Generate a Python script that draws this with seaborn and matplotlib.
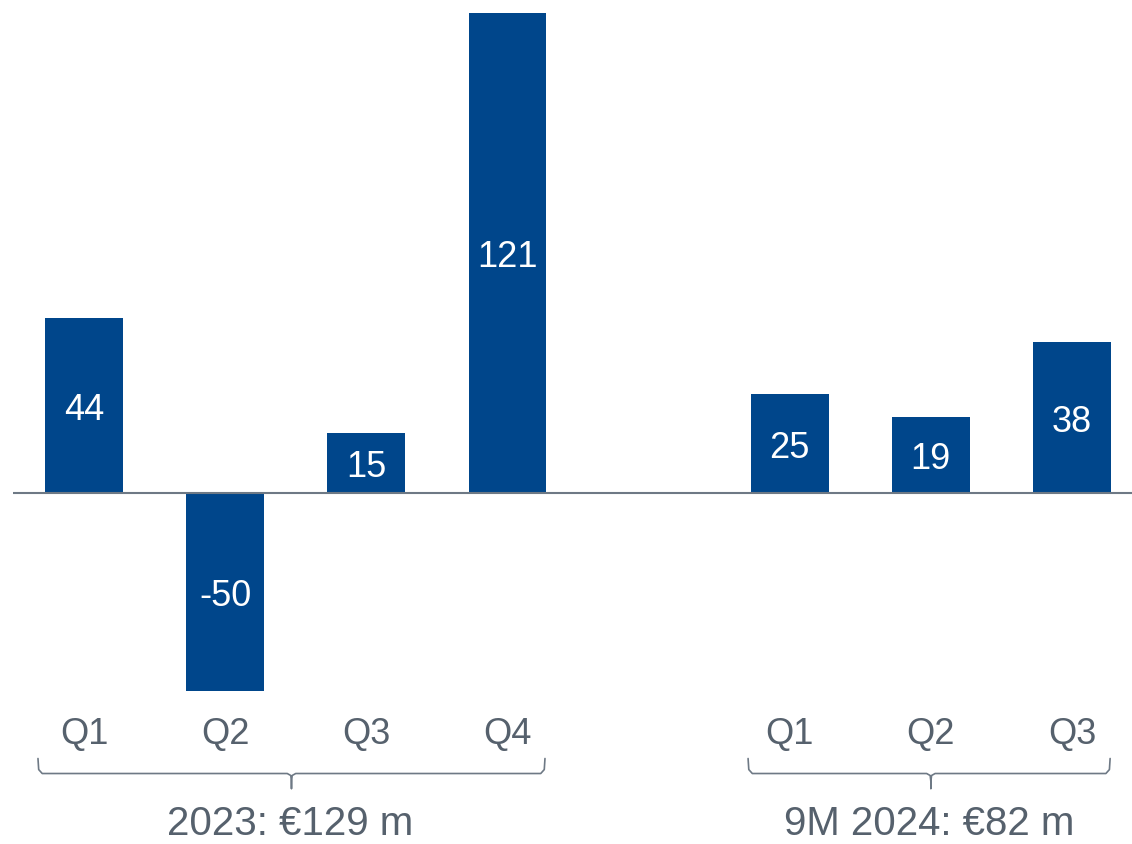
import matplotlib
matplotlib.use("Agg")
import matplotlib.pyplot as plt
import seaborn as sns
import pandas as pd
import numpy as np

# Quarterly values (€ m)
quarters_2023 = ["Q1", "Q2", "Q3", "Q4"]
values_2023 = [44, -50, 15, 121]
quarters_2024 = ["Q1", "Q2", "Q3"]
values_2024 = [25, 19, 38]
group_labels = ["2023: €129 m", "9M 2024: €82 m"]

BAR = "#00468B"
TEXT = "#56616D"
AXIS = "#6E7985"

sns.set_theme(style="white")
plt.rcParams["font.family"] = ["Liberation Sans", "DejaVu Sans"]

# Slots 0-3 for 2023, empty slot 4, slots 5-7 for 2024
slots = [0, 1, 2, 3, 5, 6, 7]
df = pd.DataFrame({
    "slot": slots,
    "value": values_2023 + values_2024,
    "quarter": quarters_2023 + quarters_2024,
})

fig = plt.figure(figsize=(11.32, 8.45), dpi=100)
ax = fig.add_axes([13 / 1132, 0, 1 - 13 / 1132, 1])

sns.barplot(data=df, x="slot", y="value", order=list(range(8)),
            color=BAR, width=0.55, saturation=1, ax=ax, edgecolor="none")

px = 3.96  # pixels per unit
shift = 1.5 / px
ylo = -50 - (845 - 690) / px + shift
yhi = 121 + 13 / px + shift
ax.set_ylim(ylo, yhi)
ax.set_xlim(-0.503, 7.425)
ax.axis("off")

ax.axhline(0, color=AXIS, lw=1.5, zorder=3)

def yv(p):
    return (492 - p) / px

# Value labels inside bars
for s, v in zip(df["slot"], df["value"]):
    ax.text(s, v / 2 - 1, f"{v}", ha="center", va="center",
            color="white", fontsize=26)

# Quarter labels
for s, q in zip(df["slot"], df["quarter"]):
    ax.text(s, yv(733), q, ha="center", va="center", color=TEXT, fontsize=26)

# Braces under each year group
def brace(x0, x1, xc):
    top, mid, bot = yv(758), yv(773), yv(788)
    r = 0.03
    xs = [x0, x0 + 0.005, x0 + r, xc - r, xc - 0.005, xc, xc, xc, xc + 0.005, xc + r,
          x1 - r, x1 - 0.005, x1]
    ys = [top, mid + 1.0, mid, mid, mid - 0.5, mid - 2.0, bot, mid - 2.0, mid - 0.5, mid,
          mid, mid + 1.0, top]
    ax.plot(xs, ys, color=AXIS, lw=1.2, clip_on=False, solid_joinstyle="round")

brace(-0.326, 3.266, 1.47)
brace(4.705, 7.27, 6.0)

ax.text(1.46, yv(822), group_labels[0], ha="center", va="center",
        color=TEXT, fontsize=29)
ax.text(5.99, yv(822), group_labels[1], ha="center", va="center",
        color=TEXT, fontsize=29)

fig.savefig("out.png", dpi=100, facecolor="white")
